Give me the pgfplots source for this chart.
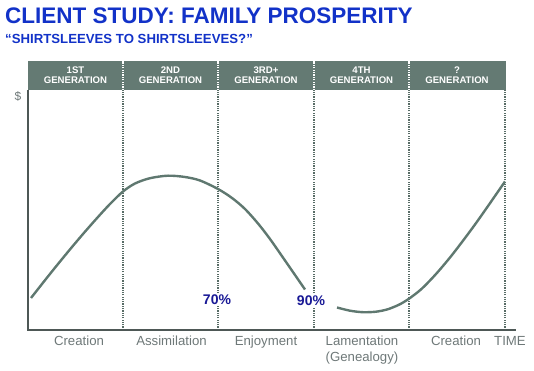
\documentclass[border=0pt]{standalone}
\usepackage{pgfplots}
\pgfplotsset{compat=1.18}
\usepackage{fontspec}
\setmainfont{Liberation Sans}
\definecolor{titleblue}{RGB}{18,50,200}
\definecolor{headfill}{RGB}{100,122,115}
\definecolor{curvecol}{RGB}{95,120,112}
\definecolor{dotcol}{RGB}{88,108,102}
\definecolor{axiscol}{RGB}{78,88,86}
\definecolor{labgray}{RGB}{110,120,120}
\definecolor{pctnavy}{RGB}{25,25,150}
\begin{document}
\begin{tikzpicture}[x=1pt,y=1pt]
\path[use as bounding box] (0,0) rectangle (534,371);
% titles
\node[anchor=base west,inner sep=0,text=titleblue,font=\fontsize{22.5}{24}\selectfont\bfseries] at (5,347.5) {CLIENT STUDY: FAMILY PROSPERITY};
\node[anchor=base west,inner sep=0,text=titleblue,font=\fontsize{13.2}{15}\selectfont\bfseries] at (5,327.5) {“SHIRTSLEEVES TO SHIRTSLEEVES?”};
\begin{axis}[
  at={(28pt,41pt)}, anchor=south west,
  scale only axis, width=477pt, height=240pt,
  xmin=28, xmax=505, ymin=41, ymax=281,
  hide axis, clip=false,
]
% header band
\fill[headfill] (axis cs:27.5,281) rectangle (axis cs:505.5,310);
\foreach \xx in {123,218,314,409}{
  \edef\tmp{\noexpand\draw[white,line width=1.6pt,dash pattern=on 1.2pt off 1.2pt] (axis cs:\xx,281) -- (axis cs:\xx,310);}\tmp
}
\foreach \xx/\lab in {75.5/1ST,170.5/2ND,266/3RD+,361.5/4TH,457/?}{
  \edef\tmp{\noexpand\node[text=white,font=\noexpand\fontsize{9.6}{10.4}\noexpand\selectfont\noexpand\bfseries,align=center,inner sep=0] at (axis cs:\xx,295.5) {\lab\noexpand\\GENERATION};}\tmp
}
% dotted verticals
\foreach \xx in {123,218,314,409,505}{
  \edef\tmp{\noexpand\draw[dotcol,line width=1.5pt,dash pattern=on 1.2pt off 1.1pt] (axis cs:\xx,41) -- (axis cs:\xx,281);}\tmp
}
% axis lines
\draw[axiscol,line width=1.8pt] (axis cs:28,281) -- (axis cs:28,41) -- (axis cs:516,41);
% curve
\addplot[curvecol,line width=2.4pt,smooth] coordinates {
 (31,73) (45,90.8) (58,107) (72,124) (85,139.3) (98,154) (110,167) (123,179.5)
 (135,187.5) (150,192.8) (168,195.3) (185,194) (200,190.5) (218,182) (232,173)
 (245,162) (258,147.5) (270,132) (285,110.5) (305,81.5)};
\addplot[curvecol,line width=2.4pt,smooth] coordinates {
 (337,63.5) (350,60.3) (363,58.8) (376,59.3) (388,61.8) (400,66.8) (410,73) (422,82.5)
 (436,97) (450,113.5) (462,129) (475,146.5) (487,163.5) (496,176.5) (505,189.5)};
% percentages
\node[fill=white,inner sep=1.5pt,text=pctnavy,font=\fontsize{14}{16}\selectfont\bfseries] at (axis cs:217,71) {70\%};
\node[fill=white,inner sep=1.5pt,text=pctnavy,font=\fontsize{14}{16}\selectfont\bfseries] at (axis cs:311,70.5) {90\%};
% labels
\node[text=labgray,font=\fontsize{12}{14}\selectfont] at (axis cs:18,275) {\$};
\foreach \xx/\lab in {79/Creation,171.5/Assimilation,266/Enjoyment,362/Lamentation,456/Creation,510/TIME}{
  \edef\tmp{\noexpand\node[anchor=base,inner sep=0,text=labgray,font=\noexpand\fontsize{13.2}{15}\noexpand\selectfont] at (axis cs:\xx,25) {\lab};}\tmp
}
\node[anchor=base,inner sep=0,text=labgray,font=\fontsize{13.2}{15}\selectfont] at (axis cs:362,9) {(Genealogy)};
\end{axis}
\end{tikzpicture}
\end{document}
